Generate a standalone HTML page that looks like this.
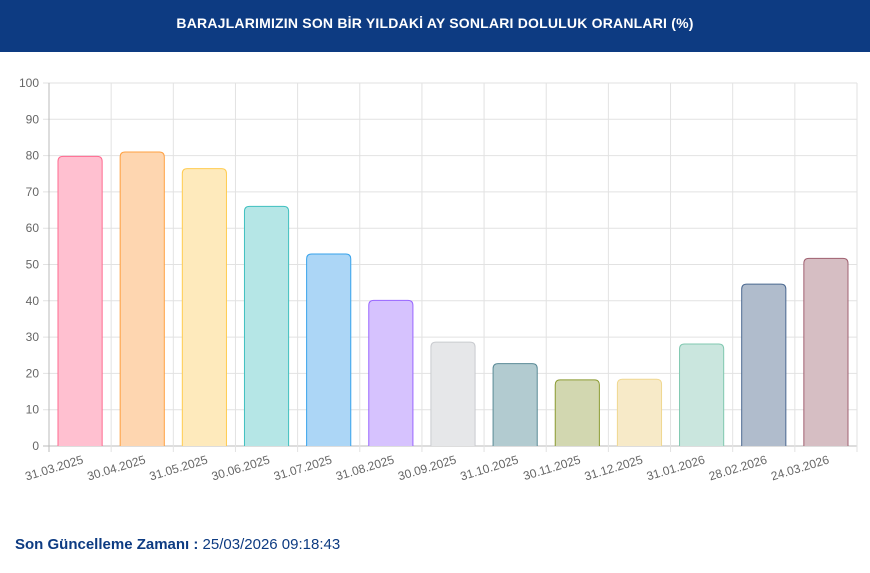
<!DOCTYPE html>
<html><head><meta charset="utf-8"><style>
body{margin:0;width:870px;height:573px;background:#fff;font-family:"Liberation Sans",sans-serif;overflow:hidden}
.hd{height:52px;background:#0d3b82;color:#fff;font-weight:bold;font-size:14px;text-align:center;line-height:46px;letter-spacing:0.2px}
.ft{position:absolute;left:15px;top:536px;font-size:15px;color:#0d3b82}
</style></head><body>
<div class="hd">BARAJLARIMIZIN SON BİR YILDAKİ AY SONLARI DOLULUK ORANLARI (%)</div>
<svg width="870" height="573" style="position:absolute;left:0;top:0">
<g id="g"></g>
</svg>
<div class="ft"><b>Son Güncelleme Zamanı :</b> 25/03/2026 09:18:43</div>
<script>
var g=document.getElementById('g'),s='';
var L=49,R=857,T=83,B=446,W=(R-L)/13,k=(B-T)/100;
for(var i=0;i<=10;i++){var y=B-i*10*k;s+='<line x1="'+(L-6)+'" x2="'+R+'" y1="'+y+'" y2="'+y+'" stroke="'+(i==0?'#bbb':'#e2e2e2')+'"/>';
s+='<text x="'+(L-10)+'" y="'+(y+4)+'" font-size="12" fill="#666" text-anchor="end">'+(i*10)+'</text>';}
for(var i=0;i<=13;i++){var x=L+i*W;s+='<line x1="'+x+'" x2="'+x+'" y1="'+T+'" y2="'+(B+6)+'" stroke="'+(i==0?'#bbb':'#e2e2e2')+'"/>';}
var v=[79.8,81,76.4,66,52.9,40.1,28.6,22.7,18.2,18.4,28.1,44.6,51.7];
var lab=['31.03.2025','30.04.2025','31.05.2025','30.06.2025','31.07.2025','31.08.2025','30.09.2025','31.10.2025','30.11.2025','31.12.2025','31.01.2026','28.02.2026','24.03.2026'];
var f=['#ffc0d0','#fed6b0','#feeabc','#b5e6e6','#acd6f6','#d6c2fe','#e6e7e9','#b2cbd0','#d2d7b0','#f7eac8','#cae6de','#b0bccc','#d6bec3'];
var b=['#ff6a90','#ffa040','#ffcc50','#40c0c0','#36a2eb','#9966ff','#c9cbcf','#5a8a96','#8a9a30','#f0d890','#80c8b0','#4a6890','#a06070'];
for(var i=0;i<13;i++){var x=L+i*W+9,w=W-18,y=B-v[i]*k,r=5;
s+='<path d="M'+x+' '+B+'V'+(y+r)+'Q'+x+' '+y+' '+(x+r)+' '+y+'H'+(x+w-r)+'Q'+(x+w)+' '+y+' '+(x+w)+' '+(y+r)+'V'+B+'" fill="'+f[i]+'" stroke="'+b[i]+'" stroke-width="1"/>';
var cx=L+i*W+W/2+4;s+='<text x="'+cx+'" y="463" font-size="12" fill="#666" text-anchor="end" transform="rotate(-17 '+cx+' 463)">'+lab[i]+'</text>';}
g.innerHTML=s;
</script>
</body></html>
